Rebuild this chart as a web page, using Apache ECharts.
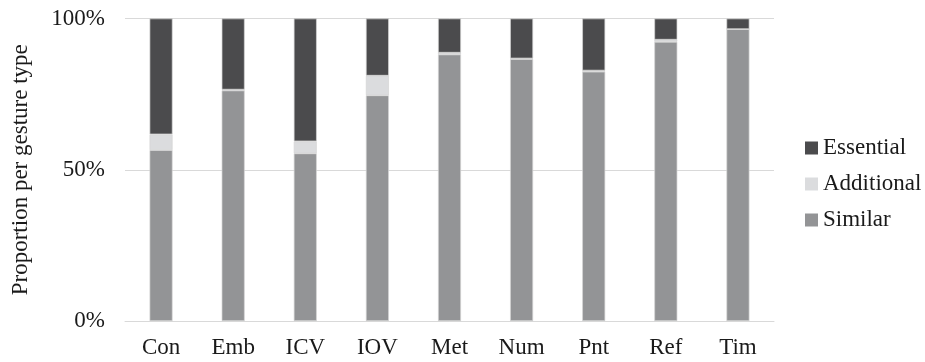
<!DOCTYPE html>
<html>
<head>
<meta charset="utf-8">
<script src="https://cdn.jsdelivr.net/npm/echarts@6/dist/echarts.min.js"></script>
<style>
  html, body { margin: 0; padding: 0; background: #fff; }
  #chart { width: 925px; height: 362px; }
</style>
</head>
<body>
<div id="chart"></div>
<script>
// Gesture types along the x axis
const categories = ['Con', 'Emb', 'ICV', 'IOV', 'Met', 'Num', 'Pnt', 'Ref', 'Tim'];

// Share of each gesture type (percent), stacked bottom to top
const similar    = [56.5, 76.2, 55.4, 74.6, 88.1, 86.6, 82.4, 92.3, 96.5];
const additional = [5.2, 0.3, 4.0, 6.5, 0.6, 0.2, 0.4, 0.7, 0.0];
const essential  = [38.3, 23.5, 40.6, 18.9, 11.3, 13.2, 17.2, 7.0, 3.5];

const yTicks = [0, 50, 100];

const font = 'Liberation Serif, Times New Roman, serif';
const textColor = '#1a1a1a';
const fontSize = 23;

const chart = echarts.init(document.getElementById('chart'), null, { renderer: 'canvas' });

function barSeries(name, data, color) {
  return {
    name: name,
    type: 'bar',
    stack: 'total',
    data: data,
    barWidth: 23,
    itemStyle: { color: color, borderColor: '#d4d4d4', borderWidth: 0.7 },
    emphasis: { disabled: true }
  };
}

chart.setOption({
  animation: false,
  backgroundColor: '#fff',
  grid: { left: 125, right: 151, top: 18.5, bottom: 41 },
  legend: {
    orient: 'vertical',
    top: 135,
    left: 805,
    padding: 0,
    itemWidth: 13,
    itemHeight: 13,
    itemGap: 10,
    icon: 'rect',
    itemStyle: { borderWidth: 0 },
    data: ['Essential', 'Additional', 'Similar'],
    textStyle: { fontFamily: font, fontSize: fontSize, color: textColor, lineHeight: 26 }
  },
  xAxis: {
    type: 'category',
    data: categories,
    axisLine: { show: true, lineStyle: { color: '#d9d9d9', width: 1 } },
    axisTick: { show: false },
    axisLabel: { fontFamily: font, fontSize: fontSize, color: textColor, margin: 15 }
  },
  yAxis: {
    type: 'value',
    min: yTicks[0],
    max: yTicks[yTicks.length - 1],
    interval: yTicks[1] - yTicks[0],
    name: 'Proportion per gesture type',
    nameLocation: 'middle',
    nameGap: 93,
    nameTextStyle: { fontFamily: font, fontSize: fontSize, color: textColor },
    axisLine: { show: false },
    axisTick: { show: false },
    splitLine: { lineStyle: { color: '#d9d9d9', width: 1 } },
    axisLabel: {
      fontFamily: font, fontSize: fontSize, color: textColor, margin: 20,
      formatter: v => v + '%'
    }
  },
  series: [
    barSeries('Similar', similar, '#939496'),
    barSeries('Additional', additional, '#dbdcde'),
    barSeries('Essential', essential, '#4b4b4d')
  ]
});
</script>
</body>
</html>
